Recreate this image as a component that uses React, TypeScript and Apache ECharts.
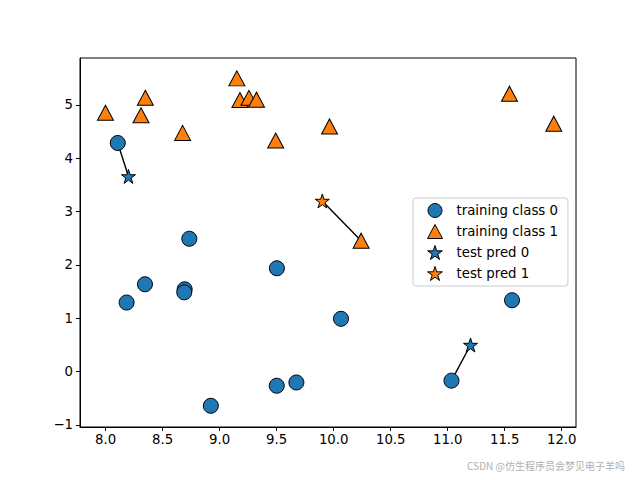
import React, { useEffect, useRef } from "react";
import * as echarts from "echarts";

const class0X = [11.0329545, 8.69289001, 8.1062269, 9.67284681, 8.68937095, 8.92229526, 8.18378052, 8.7337095, 10.06393839, 9.50048972, 8.34468785, 9.50169345, 11.563957];
const class0Y = [-0.16816717, 1.54322016, 4.28695977, -0.20283165, 1.48709629, -0.63993225, 1.29564214, 2.49162431, 0.99078055, -0.26430318, 1.63824349, 1.93824624, 1.3389402];
const class1X = [9.96346605, 11.54155807, 8.30988863, 11.93027136, 8.34810316, 8.67494727, 9.17748385, 10.24028948, 9.49123469, 9.25694192, 7.99815287, 9.32298256, 9.15072323];
const class1Y = [4.59676542, 5.21116083, 4.80623966, 4.64866327, 5.13415623, 4.47573059, 5.09283177, 2.45544401, 4.33224792, 5.13284858, 4.8525051, 5.09840649, 5.49832246];
const testPred0X = [8.2, 11.2];
const testPred0Y = [3.66, 0.5];
const testPred1X = [9.9];
const testPred1Y = [3.2];
// nearest neighbour segments: [testX, testY, neighbourX, neighbourY]
const segments = [
  [8.2, 3.66, 8.1062269, 4.28695977],
  [9.9, 3.2, 10.24028948, 2.45544401],
  [11.2, 0.5, 11.0329545, -0.16816717],
];
const xTicks = [8.0, 8.5, 9.0, 9.5, 10.0, 10.5, 11.0, 11.5, 12.0];
const yTicks = [-1, 0, 1, 2, 3, 4, 5];
const seriesNames = ["training class 0", "training class 1", "test pred 0", "test pred 1"];

const STAR = "path://M50,0 L61.2,34.5 L97.6,34.5 L68.2,55.9 L79.4,90.5 L50,69.1 L20.6,90.5 L31.8,55.9 L2.4,34.5 L38.8,34.5 Z";

const zip = (xs: number[], ys: number[]) => xs.map((x, i) => [x, ys[i]]);

export default function App() {
  const ref = useRef<HTMLDivElement>(null);
  useEffect(() => {
    if (!ref.current) return;
    const chart = echarts.init(ref.current, null, { renderer: "svg" });
    const font = "DejaVu Sans";
    const border = { borderColor: "#000", borderWidth: 1, opacity: 1 };
    chart.setOption({
      animation: false,
      textStyle: { fontFamily: font },
      grid: { left: 80, right: 64, top: 58, bottom: 53, show: true, borderColor: "#000", borderWidth: 1, backgroundColor: "transparent" },
      xAxis: {
        type: "value",
        min: 7.775,
        max: 12.125,
        splitLine: { show: false },
        axisLine: { show: true, onZero: false, lineStyle: { color: "#000" } },
        axisTick: { show: true, length: 4, customValues: xTicks, lineStyle: { color: "#000" } },
        axisLabel: { customValues: xTicks, color: "#000", fontSize: 13.3, fontFamily: font, margin: 6, formatter: (v: number) => v.toFixed(1) },
      },
      yAxis: {
        type: "value",
        min: -1.0375,
        max: 5.88,
        splitLine: { show: false },
        axisLine: { show: true, onZero: false, lineStyle: { color: "#000" } },
        axisTick: { show: true, length: 4, customValues: yTicks, lineStyle: { color: "#000" } },
        axisLabel: { customValues: yTicks, color: "#000", fontSize: 13.3, fontFamily: font, margin: 7, formatter: (v: number) => (v < 0 ? "\u2212" + Math.abs(v) : String(v)) },
      },
      legend: {
        data: seriesNames,
        orient: "vertical",
        left: 413,
        top: 198,
        backgroundColor: "#fff",
        borderColor: "#ccc",
        borderWidth: 1,
        borderRadius: 3,
        padding: [5, 10, 5, 14],
        itemWidth: 15,
        itemHeight: 14,
        itemGap: 6,
        itemStyle: { borderWidth: 1, borderColor: "#000", opacity: 1 },
        textStyle: { fontSize: 13.3, fontFamily: font, color: "#000", lineHeight: 14, padding: [0, 0, 0, 9] },
      },
      graphic: [
        {
          type: "text",
          right: 15,
          top: 460,
          style: { text: "CSDN @仿生程序员会梦见电子羊吗", fill: "#b0b0b0", fontSize: 10, fontFamily: "Noto Sans CJK SC" },
        },
      ],
      series: [
        ...segments.map((s) => ({
          type: "line",
          data: [[s[0], s[1]], [s[2], s[3]]],
          showSymbol: false,
          symbol: "none",
          lineStyle: { color: "#000", width: 1.4 },
          z: 1,
          silent: true,
        })),
        {
          name: seriesNames[0],
          type: "scatter",
          data: zip(class0X, class0Y),
          symbol: "circle",
          symbolSize: 15,
          itemStyle: { color: "#1f77b4", ...border },
          z: 3,
        },
        {
          name: seriesNames[1],
          type: "scatter",
          data: zip(class1X, class1Y),
          symbol: "triangle",
          symbolSize: [16, 15],
          itemStyle: { color: "#ff7f0e", ...border },
          z: 3,
        },
        {
          name: seriesNames[2],
          type: "scatter",
          data: zip(testPred0X, testPred0Y),
          symbol: STAR,
          symbolSize: 14,
          itemStyle: { color: "#1f77b4", ...border },
          z: 4,
        },
        {
          name: seriesNames[3],
          type: "scatter",
          data: zip(testPred1X, testPred1Y),
          symbol: STAR,
          symbolSize: 14,
          itemStyle: { color: "#ff7f0e", ...border },
          z: 4,
        },
      ],
    });
    return () => chart.dispose();
  }, []);
  return <div ref={ref} style={{ width: 640, height: 480, position: "absolute", left: 0, top: 0 }} />;
}
